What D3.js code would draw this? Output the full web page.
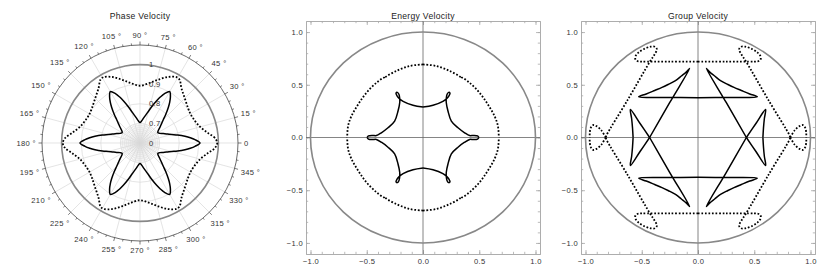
<!DOCTYPE html>
<html>
<head>
<meta charset="utf-8">
<script src="https://d3js.org/d3.v7.min.js"></script>
<style>
  body { margin: 0; background: #fff; }
  svg { display: block; }
  text { font-family: "Liberation Sans", Arial, sans-serif; fill: #333; }
  .title { font-size: 8.6px; letter-spacing: 0.3px; fill: #222; text-anchor: middle; }
  .lbl, .tick text { font-size: 7.6px; letter-spacing: 0.35px; }
  .frame .domain, .frame .tick line { stroke: #aaa; stroke-width: 0.8; }
  .solid { fill: none; stroke: #000; stroke-width: 1.5; }
  .dotted { fill: none; stroke: #000; stroke-width: 1.8; stroke-dasharray: 1.7 1.8; }
  .unit { fill: none; stroke: #888; stroke-width: 1.6; }
</style>
</head>
<body>
<script>
// phase velocity, first quadrant: [angle in degrees, velocity]
var phaseSolid = [[0,0.906],[3.5,0.881],[6,0.858],[8.5,0.832],[12,0.796],[15,0.768],[18,0.748],
  [22,0.728],[26,0.712],[30,0.705],[34,0.712],[38,0.728],[42,0.748],[45,0.768],[48,0.796],
  [51.5,0.832],[54,0.858],[56.5,0.881],[60,0.903],[63.5,0.881],[66,0.858],[68.5,0.832],
  [72,0.796],[75,0.768],[78,0.748],[82,0.728],[86,0.712],[90,0.705]];
var phaseDotted = [[0,0.994],[4,0.982],[8.5,0.95],[15.5,0.916],[25,0.899],[30,0.897],[36,0.903],
  [45,0.923],[53,0.951],[58,0.981],[61,0.984],[67,0.966],[74,0.936],[81,0.91],[90,0.892]];
var radialTicks = [0.6, 0.7, 0.8, 0.9, 1];
var radialLabels = ["0", "0.7", "0.8", "0.9", "1"];
var angleTicks = [0,15,30,45,60,75,90,105,120,135,150,165,180,195,210,225,240,255,270,285,300,315,330,345];

// energy velocity, first quadrant: [x, y]
var energySolid = [[0,0.289],[0.089,0.306],[0.177,0.343],[0.214,0.372],[0.232,0.398],[0.24,0.42],
  [0.228,0.428],[0.214,0.41],[0.207,0.37],[0.207,0.33],[0.222,0.251],[0.252,0.156],[0.311,0.092],
  [0.37,0.045],[0.415,0.018],[0.45,0.02],[0.485,0.015],[0.497,0]];
var energyDotted = [[0,0.693],[0.119,0.678],[0.237,0.631],[0.33,0.575],[0.334,0.562],[0.345,0.568],
  [0.414,0.519],[0.503,0.424],[0.577,0.313],[0.636,0.203],[0.666,0.108],[0.674,0]];

// group velocity, first quadrant: [x, y]
var groupSolidA = [[0,0.377],[0.26,0.38],[0.527,0.386],[0.46,0.413],[0.385,0.446],[0.32,0.475],
  [0.266,0.503],[0.2,0.54],[0.148,0.583],[0.105,0.62],[0.074,0.655],[0.252,0.33],[0.43,0]];
var groupSolidB = [[0.43,0],[0.515,0.133],[0.601,0.266],[0.59,0.18],[0.582,0.09],[0.577,0]];
var groupDottedA = [[0,0.72],[0.25,0.72],[0.5,0.72],[0.535,0.723],[0.556,0.74],[0.556,0.77],
  [0.53,0.805],[0.48,0.84],[0.42,0.862],[0.38,0.86],[0.365,0.835],[0.385,0.79],[0.43,0.715],
  [0.625,0.357],[0.814,0.02],[0.82,0]];
var groupDottedB = [[0.82,0],[0.858,0.066],[0.902,0.108],[0.932,0.118],[0.953,0.092],[0.962,0.045],[0.962,0]];

var majorTicks = [-1, -0.5, 0, 0.5, 1];
var minorTicks = [-1,-0.9,-0.8,-0.7,-0.6,-0.5,-0.4,-0.3,-0.2,-0.1,0,0.1,0.2,0.3,0.4,0.5,0.6,0.7,0.8,0.9,1];

var W = 830, H = 277;
var svg = d3.select("body").append("svg").attr("width", W).attr("height", H);

// ---------- phase velocity (polar) ----------
var pcx = 140, pcy = 143, pR = 98;
var r = d3.scaleLinear().domain([0.6, 1.1]).range([0, pR]);
var rad = function(a) { return a * Math.PI / 180; };
var polar = svg.append("g").attr("transform", "translate(" + pcx + "," + pcy + ")");

// dense grid near the centre
polar.selectAll(".ring0").data(d3.range(0.61, 0.695, 0.01)).enter().append("circle")
  .attr("r", function(d) { return r(d); })
  .attr("fill", "none").attr("stroke", "#ddd").attr("stroke-width", 0.5);
polar.selectAll(".spk0").data(d3.range(0, 360, 5)).enter().append("line")
  .attr("x2", function(d) { return r(0.7) * Math.cos(rad(d)); })
  .attr("y2", function(d) { return -r(0.7) * Math.sin(rad(d)); })
  .attr("stroke", "#ddd").attr("stroke-width", 0.5);
polar.selectAll(".spk").data(angleTicks).enter().append("line")
  .attr("x2", function(d) { return pR * Math.cos(rad(d)); })
  .attr("y2", function(d) { return -pR * Math.sin(rad(d)); })
  .attr("stroke", "#d8d8d8").attr("stroke-width", 0.7);
polar.selectAll(".ring").data([0.7, 0.8, 0.9]).enter().append("circle")
  .attr("r", function(d) { return r(d); })
  .attr("fill", "none").attr("stroke", "#d8d8d8").attr("stroke-width", 0.7);

// outer angular axis
polar.append("circle").attr("r", pR).attr("fill", "none").attr("stroke", "#444").attr("stroke-width", 0.8);
polar.selectAll(".atk").data(d3.range(0, 360, 5)).enter().append("line")
  .attr("x1", function(d) { return pR * Math.cos(rad(d)); })
  .attr("y1", function(d) { return -pR * Math.sin(rad(d)); })
  .attr("x2", function(d) { var l = d % 15 ? 2 : 3.5; return (pR + l) * Math.cos(rad(d)); })
  .attr("y2", function(d) { var l = d % 15 ? 2 : 3.5; return -(pR + l) * Math.sin(rad(d)); })
  .attr("stroke", "#444").attr("stroke-width", 0.7);

polar.selectAll(".albl").data(angleTicks).enter().append("text")
  .attr("class", "lbl")
  .attr("text-anchor", "middle").attr("dominant-baseline", "central")
  .text(function(d) { return d === 0 ? "0" : d + " \u00b0"; })
  .each(function(d) {
    var hw = this.getComputedTextLength() / 2;
    var c = Math.cos(rad(d)), s = Math.sin(rad(d));
    var rr = pR + 6 + hw * Math.abs(c) + 3.5 * Math.abs(s);
    d3.select(this).attr("x", rr * c).attr("y", -rr * s);
  });

polar.append("circle").attr("class", "unit").attr("r", r(1));

function fullPolar(q) {
  var pts = q.slice();
  q.slice(0, -1).reverse().forEach(function(d) { pts.push([180 - d[0], d[1]]); });
  q.slice(1).forEach(function(d) { pts.push([180 + d[0], d[1]]); });
  q.slice(1, -1).reverse().forEach(function(d) { pts.push([360 - d[0], d[1]]); });
  return pts;
}
var radial = d3.lineRadial()
  .angle(function(d) { return rad(90 - d[0]); })
  .radius(function(d) { return r(d[1]); })
  .curve(d3.curveCatmullRomClosed.alpha(0.5));
polar.append("path").attr("class", "dotted").attr("d", radial(fullPolar(phaseDotted)));
polar.append("path").attr("class", "solid").attr("d", radial(fullPolar(phaseSolid)));

polar.selectAll(".rlbl").data(radialTicks).enter().append("text")
  .attr("class", "lbl")
  .attr("x", 9).attr("y", function(d) { return -r(d); })
  .attr("dominant-baseline", "central")
  .text(function(d, i) { return radialLabels[i]; });

svg.append("text").attr("class", "title").attr("x", pcx).attr("y", 18.5).text("Phase Velocity");

// ---------- energy / group velocity (framed) ----------
var quads = [[1, 1], [-1, 1], [1, -1], [-1, -1]];

function panel(x0, title, solids, dotteds) {
  var x = d3.scaleLinear().domain([-1.04, 1.04]).range([x0 + 306, x0 + 540]);
  var y = d3.scaleLinear().domain([-1.105, 1.105]).range([254, 21]);
  var g = svg.append("g");
  var fmt = d3.format(".1f");

  var frame = g.append("g").attr("class", "frame");
  frame.append("g").attr("transform", "translate(0," + y.range()[0] + ")")
    .call(d3.axisBottom(x).tickValues(minorTicks).tickSize(-2.2).tickSizeOuter(0).tickFormat(""));
  frame.append("g").attr("transform", "translate(0," + y.range()[0] + ")")
    .call(d3.axisBottom(x).tickValues(majorTicks).tickSize(-4).tickSizeOuter(0).tickPadding(5).tickFormat(fmt));
  frame.append("g").attr("transform", "translate(0," + y.range()[1] + ")")
    .call(d3.axisTop(x).tickValues(minorTicks).tickSize(-2.2).tickSizeOuter(0).tickFormat(""));
  frame.append("g").attr("transform", "translate(0," + y.range()[1] + ")")
    .call(d3.axisTop(x).tickValues(majorTicks).tickSize(-4).tickSizeOuter(0).tickFormat(""));
  frame.append("g").attr("transform", "translate(" + x.range()[0] + ",0)")
    .call(d3.axisLeft(y).tickValues(minorTicks).tickSize(-2.2).tickSizeOuter(0).tickFormat(""));
  frame.append("g").attr("transform", "translate(" + x.range()[0] + ",0)")
    .call(d3.axisLeft(y).tickValues(majorTicks).tickSize(-4).tickSizeOuter(0).tickPadding(3).tickFormat(fmt));
  frame.append("g").attr("transform", "translate(" + x.range()[1] + ",0)")
    .call(d3.axisRight(y).tickValues(minorTicks).tickSize(-2.2).tickSizeOuter(0).tickFormat(""));
  frame.append("g").attr("transform", "translate(" + x.range()[1] + ",0)")
    .call(d3.axisRight(y).tickValues(majorTicks).tickSize(-4).tickSizeOuter(0).tickFormat(""));
  frame.selectAll(".tick text").attr("fill", "#333");

  // axes through the origin
  g.append("line").attr("x1", x.range()[0]).attr("x2", x.range()[1]).attr("y1", y(0)).attr("y2", y(0))
    .attr("stroke", "#666").attr("stroke-width", 0.8);
  g.append("line").attr("x1", x(0)).attr("x2", x(0)).attr("y1", y.range()[0]).attr("y2", y.range()[1])
    .attr("stroke", "#666").attr("stroke-width", 0.8);

  g.append("ellipse").attr("class", "unit")
    .attr("cx", x(0)).attr("cy", y(0)).attr("rx", x(1) - x(0)).attr("ry", y(0) - y(1));

  var line = d3.line().curve(d3.curveCatmullRom.alpha(0.5));
  function draw(data, cls) {
    quads.forEach(function(q) {
      g.append("path").attr("class", cls)
        .attr("d", line(data.map(function(d) { return [x(q[0] * d[0]), y(q[1] * d[1])]; })));
    });
  }
  dotteds.forEach(function(d) { draw(d, "dotted"); });
  solids.forEach(function(d) { draw(d, "solid"); });

  svg.append("text").attr("class", "title").attr("x", x(0)).attr("y", 18.5).text(title);
}

panel(0, "Energy Velocity", [energySolid], [energyDotted]);
panel(275, "Group Velocity", [groupSolidA, groupSolidB], [groupDottedA, groupDottedB]);
</script>
</body>
</html>
